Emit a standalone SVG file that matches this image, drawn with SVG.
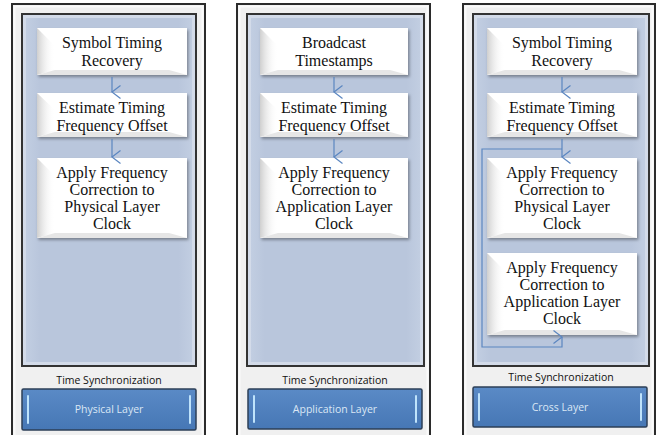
<svg xmlns="http://www.w3.org/2000/svg" width="660" height="435" viewBox="0 0 660 435">
<defs>
<style>
.outer{fill:#f0f0f0;stroke:#2b2b2b;stroke-width:2}
.outerIn{fill:none;stroke:#fafafa;stroke-width:2}
.panel{fill:url(#pg);stroke:#333;stroke-width:2}
.panelIn{fill:none;stroke:#d3dbe9;stroke-width:3}
.box{fill:#ffffff;filter:url(#sh)}
.bevL{fill:url(#bl)}
.bevB{fill:#e6e6e6}
.bt{font-family:'Liberation Serif','Times New Roman',Times,serif;font-size:16px;fill:#111;text-anchor:middle}
.ts{font-family:'Open Sans','Liberation Sans',Arial,sans-serif;font-size:10.5px;fill:#111;text-anchor:middle}
.btn{fill:url(#bg);stroke:#2d3f57;stroke-width:1.5}
.bar{fill:none;stroke:#bfe3fb;stroke-width:2;stroke-linecap:round}
.lbl{font-family:'Open Sans','Liberation Sans',Arial,sans-serif;font-size:10.5px;fill:#dbe7f5;text-anchor:middle}
.con{fill:none;stroke:#5b86c0;stroke-width:1.2}
</style>
<linearGradient id="pg" x1="0" y1="0" x2="1" y2="0">
<stop offset="0" stop-color="#c4d0e3"/><stop offset="0.1" stop-color="#b9c6dc"/><stop offset="0.9" stop-color="#b9c6dc"/><stop offset="1" stop-color="#c4d0e3"/>
</linearGradient>
<linearGradient id="bl" x1="0" y1="0" x2="1" y2="0">
<stop offset="0" stop-color="#cfcfcf"/><stop offset="1" stop-color="#ffffff" stop-opacity="0"/>
</linearGradient>
<linearGradient id="bg" x1="0" y1="0" x2="0" y2="1">
<stop offset="0" stop-color="#5a8ac6"/><stop offset="1" stop-color="#4677b5"/>
</linearGradient>
<filter id="sh" x="-10%" y="-10%" width="125%" height="130%">
<feDropShadow dx="1.5" dy="2" stdDeviation="1.5" flood-color="#000" flood-opacity="0.35"/>
</filter>
<marker id="ah" viewBox="0 0 14 10" refX="7" refY="9" markerWidth="14" markerHeight="10" markerUnits="userSpaceOnUse" orient="auto-start-reverse">
<path d="M0.5,0.5 L7,9 L13.5,0.5" fill="none" stroke="#5b86c0" stroke-width="1.2"/>
</marker>
</defs>
<rect width="660" height="435" fill="#ffffff"/>

<g id="panel1">
<rect class="outer" x="12" y="4" width="193" height="440"/>
<rect class="outerIn" x="14.5" y="6.5" width="188" height="440"/>
<rect class="panel" x="22" y="14" width="174" height="352"/>
<rect class="panelIn" x="24.5" y="16.5" width="169" height="347"/>
<text class="ts" x="109" y="384">Time Synchronization</text>
</g>
<g id="panel2">
<rect class="outer" x="237" y="4" width="193" height="440"/>
<rect class="outerIn" x="239.5" y="6.5" width="188" height="440"/>
<rect class="panel" x="247" y="14" width="177" height="352"/>
<rect class="panelIn" x="249.5" y="16.5" width="172" height="347"/>
<text class="ts" x="335" y="384">Time Synchronization</text>
</g>
<g id="panel3">
<rect class="outer" x="463" y="4" width="192" height="440"/>
<rect class="outerIn" x="465.5" y="6.5" width="187" height="440"/>
<rect class="panel" x="473" y="14" width="176" height="352"/>
<rect class="panelIn" x="475.5" y="16.5" width="171" height="347"/>
<text class="ts" x="561" y="381">Time Synchronization</text>
</g>

<g id="btn1">
<rect class="btn" x="22" y="389" width="174" height="41" rx="1.5"/>
<path class="bar" d="M28,396 L28,423"/><path class="bar" d="M190,396 L190,423"/>
<text class="lbl" x="109" y="413">Physical Layer</text>
</g>
<g id="btn2">
<rect class="btn" x="248" y="389" width="174" height="40" rx="1.5"/>
<path class="bar" d="M254,396 L254,422"/><path class="bar" d="M416,396 L416,422"/>
<text class="lbl" x="335" y="413">Application Layer</text>
</g>
<g id="btn3">
<rect class="btn" x="473" y="387" width="174" height="40" rx="1.5"/>
<path class="bar" d="M479,394 L479,420"/><path class="bar" d="M641,394 L641,420"/>
<text class="lbl" x="560" y="411">Cross Layer</text>
</g>

<g id="p1b1">
<rect class="box" x="37" y="28" width="150" height="47"/>
<polygon class="bevL" points="37,28 55,46 55,70 37,75"/>
<polygon class="bevB" points="37,75 55,70 169,70 187,75"/>
<text class="bt" font-family="Liberation Serif, serif" x="112" y="48">Symbol Timing</text>
<text class="bt" font-family="Liberation Serif, serif" x="112" y="66">Recovery</text>
</g>
<g id="p1b2">
<rect class="box" x="37" y="93" width="150" height="44"/>
<polygon class="bevL" points="37,93 55,110 55,132 37,137"/>
<polygon class="bevB" points="37,137 55,132 169,132 187,137"/>
<text class="bt" x="112" y="113">Estimate Timing</text>
<text class="bt" x="112" y="131">Frequency Offset</text>
</g>
<g id="p1b3">
<rect class="box" x="37" y="158" width="150" height="80"/>
<polygon class="bevL" points="37,158 55,176 55,233 37,238"/>
<polygon class="bevB" points="37,238 55,233 169,233 187,238"/>
<text class="bt" x="112" y="178">Apply Frequency</text>
<text class="bt" x="112" y="195">Correction to</text>
<text class="bt" x="112" y="212">Physical Layer</text>
<text class="bt" x="112" y="229">Clock</text>
</g>

<g id="p2b1">
<rect class="box" x="260" y="28" width="148" height="47"/>
<polygon class="bevL" points="260,28 278,46 278,70 260,75"/>
<polygon class="bevB" points="260,75 278,70 390,70 408,75"/>
<text class="bt" x="334" y="48">Broadcast</text>
<text class="bt" x="334" y="66">Timestamps</text>
</g>
<g id="p2b2">
<rect class="box" x="260" y="93" width="148" height="44"/>
<polygon class="bevL" points="260,93 278,110 278,132 260,137"/>
<polygon class="bevB" points="260,137 278,132 390,132 408,137"/>
<text class="bt" x="334" y="113">Estimate Timing</text>
<text class="bt" x="334" y="131">Frequency Offset</text>
</g>
<g id="p2b3">
<rect class="box" x="260" y="158" width="148" height="80"/>
<polygon class="bevL" points="260,158 278,176 278,233 260,238"/>
<polygon class="bevB" points="260,238 278,233 390,233 408,238"/>
<text class="bt" x="334" y="178">Apply Frequency</text>
<text class="bt" x="334" y="195">Correction to</text>
<text class="bt" x="334" y="212">Application Layer</text>
<text class="bt" x="334" y="229">Clock</text>
</g>

<g id="p3b1">
<rect class="box" x="487" y="28" width="150" height="47"/>
<polygon class="bevL" points="487,28 505,46 505,70 487,75"/>
<polygon class="bevB" points="487,75 505,70 619,70 637,75"/>
<text class="bt" x="562" y="48">Symbol Timing</text>
<text class="bt" x="562" y="66">Recovery</text>
</g>
<g id="p3b2">
<rect class="box" x="487" y="93" width="150" height="44"/>
<polygon class="bevL" points="487,93 505,110 505,132 487,137"/>
<polygon class="bevB" points="487,137 505,132 619,132 637,137"/>
<text class="bt" x="562" y="113">Estimate Timing</text>
<text class="bt" x="562" y="131">Frequency Offset</text>
</g>
<g id="p3b3">
<rect class="box" x="487" y="158" width="150" height="80"/>
<polygon class="bevL" points="487,158 505,176 505,233 487,238"/>
<polygon class="bevB" points="487,238 505,233 619,233 637,238"/>
<text class="bt" x="562" y="178">Apply Frequency</text>
<text class="bt" x="562" y="195">Correction to</text>
<text class="bt" x="562" y="212">Physical Layer</text>
<text class="bt" x="562" y="229">Clock</text>
</g>
<g id="p3b4">
<rect class="box" x="487" y="253" width="150" height="82"/>
<polygon class="bevL" points="487,253 505,271 505,330 487,335"/>
<polygon class="bevB" points="487,335 505,330 619,330 637,335"/>
<text class="bt" x="562" y="273">Apply Frequency</text>
<text class="bt" x="562" y="290">Correction to</text>
<text class="bt" x="562" y="307">Application Layer</text>
<text class="bt" x="562" y="324">Clock</text>
</g>

<g id="connectors">
<path class="con" d="M112,77 L112,92" marker-end="url(#ah)"/>
<path class="con" d="M112,139 L112,157" marker-end="url(#ah)"/>
<path class="con" d="M334,77 L334,92" marker-end="url(#ah)"/>
<path class="con" d="M334,139 L334,157" marker-end="url(#ah)"/>
<path class="con" d="M562,77 L562,92" marker-end="url(#ah)"/>
<path class="con" d="M562,139 L562,157" marker-end="url(#ah)"/>
<path class="con" d="M562,149 L482,149 L482,347 L562,347 L562,337" marker-end="url(#ah)"/>
</g>
</svg>
